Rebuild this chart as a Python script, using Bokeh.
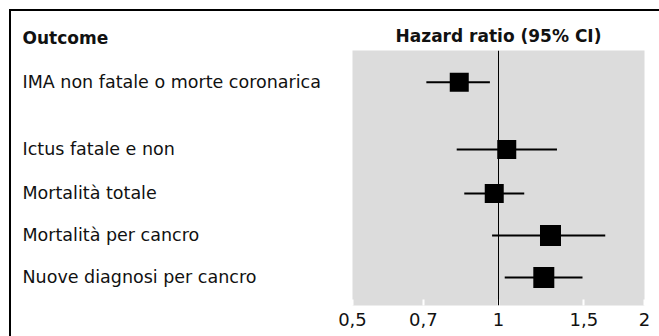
from bokeh.plotting import figure
from bokeh.layouts import row
from bokeh.models import ColumnDataSource, Span, FixedTicker, Range1d
from bokeh.embed import file_html
from bokeh.resources import INLINE
from bokeh.core.properties import value

# ---- data ----
outcomes = [
    "IMA non fatale o morte coronarica",
    "Ictus fatale e non",
    "Mortalità totale",
    "Mortalità per cancro",
    "Nuove diagnosi per cancro",
]
hr = [0.83, 1.04, 0.98, 1.28, 1.24]
ci_low = [0.71, 0.82, 0.85, 0.97, 1.03]
ci_high = [0.96, 1.32, 1.13, 1.66, 1.49]
tick_values = [0.5, 0.7, 1, 1.5, 2]
tick_labels = ["0,5", "0,7", "1", "1,5", "2"]
header_left = "Outcome"
header_right = "Hazard ratio (95% CI)"

# ---- layout helpers (row positions / marker sizes) ----
row_pos = [5.65, 4.05, 3.0, 2.0, 1.0]
marker_px = [19, 19, 19, 21, 21]

FONT = "DejaVu Sans"
TXT = "#111111"
FS = "17px"

src = ColumnDataSource(dict(label=outcomes, hr=hr, lo=ci_low, hi=ci_high,
                            pos=row_pos, px=marker_px))

yr = Range1d(0.333, 6.405)

# ---- right panel: forest plot ----
p = figure(width=327, height=325, x_axis_type="log",
           x_range=Range1d(0.5, 2), y_range=yr,
           y_axis_location=None,
           output_backend="svg", toolbar_location=None,
           min_border_left=20, min_border_right=15,
           min_border_top=39, min_border_bottom=31,
           background_fill_color="#dcdcdc", border_fill_color="white",
           outline_line_color=None,
           title=header_right, title_location="above")

p.title.align = "center"
p.title.text_font = FONT
p.title.text_font_size = FS
p.title.text_font_style = "bold"
p.title.text_color = TXT
p.title.standoff = 9

p.xgrid.visible = False
p.ygrid.visible = False

ax = p.xaxis[0]
ax.ticker = FixedTicker(ticks=tick_values)
ax.major_label_overrides = dict(zip(tick_values, tick_labels))
ax.minor_tick_line_color = None
ax.axis_line_color = None
ax.major_tick_in = 6
ax.major_tick_out = 0
ax.major_tick_line_color = "white"
ax.major_tick_line_width = 2
ax.major_label_standoff = 7
ax.major_label_text_font = FONT
ax.major_label_text_font_size = "18px"
ax.major_label_text_color = TXT

p.add_layout(Span(location=1, dimension="height", line_color="black", line_width=1))

p.segment(x0="lo", y0="pos", x1="hi", y1="pos", source=src,
          line_color="black", line_width=2)
p.scatter(x="hr", y="pos", size="px", marker="square", source=src,
          fill_color="black", line_color=None)

# ---- left panel: outcome labels ----
left = figure(width=321, height=325, x_range=Range1d(0, 321), y_range=yr,
              x_axis_location=None, y_axis_location=None,
              min_border_left=0, min_border_right=0,
              min_border_top=39, min_border_bottom=31,
              outline_line_color=None,
              title=header_left, title_location="above",
              output_backend="svg", toolbar_location=None)
left.grid.visible = False
left.title.align = "left"
left.title.offset = 11
left.title.text_font = FONT
left.title.text_font_size = FS
left.title.text_font_style = "bold"
left.title.text_color = TXT
left.title.standoff = 6
left.text(x=11, y="pos", text="label", source=src,
          text_font=value(FONT), text_font_size=value("17.5px"), text_color=TXT,
          text_baseline="middle", text_align="left")

layout = row(left, p, styles={"margin-left": "9px", "margin-top": "9px",
                              "border-top": "2px solid black",
                              "border-left": "2px solid black"})

open("out.html", "w").write(file_html(layout, INLINE))
